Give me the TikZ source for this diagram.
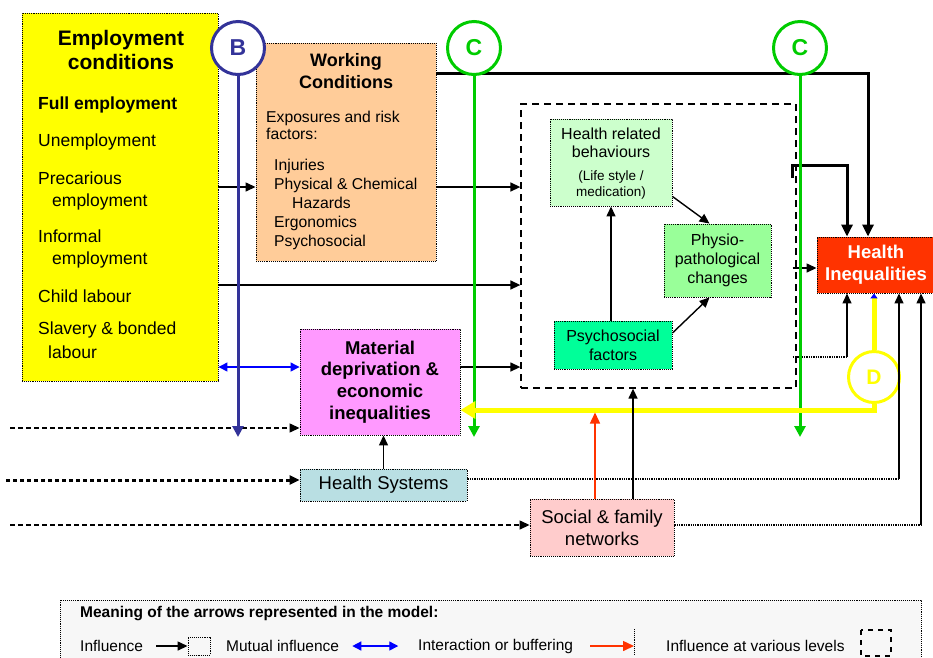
\documentclass[tikz,border=0pt]{standalone}
\usepackage{fontspec}
\setmainfont{Liberation Sans}
\usetikzlibrary{arrows.meta}

\definecolor{empyellow}{HTML}{FFFF00}
\definecolor{workorange}{HTML}{FFCC99}
\definecolor{matpink}{HTML}{FF99FF}
\definecolor{behgreen}{HTML}{CCFFCC}
\definecolor{physgreen}{HTML}{99FF99}
\definecolor{psygreen}{HTML}{00FF99}
\definecolor{hired}{HTML}{FF3300}
\definecolor{hsblue}{HTML}{B9DFE3}
\definecolor{netpink}{HTML}{FFCCCC}
\definecolor{bnavy}{HTML}{333399}
\definecolor{cgreen}{HTML}{00CC00}
\definecolor{dyellow}{HTML}{FFFF00}
\definecolor{legbg}{HTML}{F7F7F7}

\newcommand{\lifestyle}{\fontsize{13.5}{16}\selectfont}

\tikzset{
  box/.style={draw, densely dotted, line width=0.9pt, inner sep=0pt},
  levbox/.style={draw, line width=1.3pt, dash pattern=on 7pt off 5pt, inner sep=0pt},
  letter/.style={circle, draw, line width=3pt, fill=white, minimum size=53pt, inner sep=0pt,
    font=\fontsize{23}{23}\selectfont\bfseries},
  titletxt/.style={inner sep=0pt, align=center, font=\fontsize{21}{24}\selectfont\bfseries},
  emptxt/.style={anchor=west, inner sep=0pt, font=\fontsize{17.5}{20}\selectfont},
  worktxt/.style={anchor=west, inner sep=0pt, align=left, font=\fontsize{15.7}{17.5}\selectfont},
  boldtxt/.style={align=center, font=\fontsize{18.5}{21.7}\selectfont\bfseries},
  midtxt/.style={align=center, font=\fontsize{18.5}{22}\selectfont},
  smalltxt/.style={align=center, font=\fontsize{16}{19}\selectfont},
  legtxt/.style={anchor=west, inner sep=0pt, font=\fontsize{15.5}{17}\selectfont},
  infl/.style={line width=1.4pt, -{Triangle[length=10pt,width=9pt]}},
  boldinfl/.style={line width=3pt, -{Triangle[length=12pt,width=11pt]}},
  mutual/.style={blue, line width=1.3pt, {Triangle[length=9pt,width=9pt]}-{Triangle[length=9pt,width=9pt]}},
  buffer/.style={hired, line width=1.5pt, -{Triangle[length=11pt,width=10pt]}},
  outline/.style={line width=1.3pt, dash pattern=on 5pt off 3pt},
  sysline/.style={line width=3pt, dash pattern=on 3.5pt off 3.5pt},
  dotline/.style={line width=1.3pt, densely dotted},
  cline/.style={cgreen, line width=3pt, -{Triangle[length=11pt,width=11pt]}},
  bline/.style={bnavy, line width=3pt, -{Triangle[length=11pt,width=11pt]}},
  yel/.style={dyellow, line width=5pt},
}

\begin{document}
\begin{tikzpicture}[x=1pt, y=-1pt]
  \useasboundingbox (0,0) rectangle (933,657);

  % helper rows
  \coordinate (rowtop) at (0,73);
  \coordinate (rowhigh) at (0,165);
  \coordinate (rowbeh) at (0,178);
  \coordinate (rowwork) at (0,187);
  \coordinate (rowmid) at (0,268);
  \coordinate (rowchild) at (0,285);
  \coordinate (rowlow) at (0,357);
  \coordinate (rowmat) at (0,367);
  \coordinate (rowyel) at (0,410);
  \coordinate (rowend) at (0,437);
  \coordinate (rowsys) at (0,479);
  % free ends on the left
  \coordinate (inmat) at (10,428);
  \coordinate (insys) at (6,480);
  \coordinate (innet) at (10,525);

  % employment conditions
  \node[box, fill=empyellow, minimum width=196pt, minimum height=368pt] (emp) at (120,197) {};
  \node[titletxt] (emptitle) at (121,50) {Employment\\conditions};
  \node[emptxt, font=\fontsize{17.5}{20}\selectfont\bfseries] (emp1) at (38,105) {Full employment};
  \node[emptxt] (emp2) at (38,142) {Unemployment};
  \node[emptxt] (emp3) at (38,178) {Precarious};
  \node[emptxt] (emp4) at (52,202) {employment};
  \node[emptxt] (emp5) at (38,236) {Informal};
  \node[emptxt] (emp6) at (52,260) {employment};
  \node[emptxt] (emp7) at (38,296) {Child labour};
  \node[emptxt] (emp8) at (38,330) {Slavery \& bonded};
  \node[emptxt] (emp9) at (48,352) {labour};

  % working conditions
  \node[box, fill=workorange, minimum width=180pt, minimum height=218pt] (work) at (346,152) {};
  \node[titletxt, font=\fontsize{18}{22}\selectfont\bfseries] (worktitle) at (346,71) {Working\\Conditions};
  \node[worktxt, font=\fontsize{15.7}{17}\selectfont] (workexp) at (266,125.5) {Exposures and risk\\factors:};
  \node[worktxt, font=\fontsize{15.7}{19}\selectfont] (worklist) at (274,204)
    {Injuries\\Physical \& Chemical\\\hspace*{18pt}Hazards\\Ergonomics\\Psychosocial};

  % other determinants
  \node[box, fill=matpink, minimum width=160pt, minimum height=106pt, boldtxt] (md) at (380,382)
    {Material\\deprivation \&\\economic\\inequalities};
  \node[box, fill=hsblue, minimum width=167pt, minimum height=32pt, midtxt] (hs) at (383.5,485) {\raisebox{-2pt}{Health Systems}};
  \node[box, fill=netpink, minimum width=144pt, minimum height=57pt, midtxt] (net) at (602,527.5) {Social \& family\\networks};

  % influence at various levels
  \node[levbox, minimum width=275pt, minimum height=284pt] (lev) at (658.5,246) {};
  \node[box, fill=behgreen, minimum width=122pt, minimum height=87pt] (beh) at (611,162.5) {};
  \node[smalltxt, inner sep=0pt, font=\fontsize{16}{18}\selectfont] (behtitle) at (611,143) {Health related\\behaviours};
  \node[inner sep=0pt, align=center, font=\lifestyle] (behnote) at (611,185) {(Life style /\\medication)};
  \node[box, fill=physgreen, minimum width=107pt, minimum height=73pt, smalltxt] (phys) at (717.5,260.5)
    {Physio-\\pathological\\changes};
  \node[box, fill=psygreen, minimum width=118pt, minimum height=48pt, smalltxt] (psy) at (613,345) {Psychosocial\\factors};

  % outcome
  \node[box, fill=hired, minimum width=118pt, minimum height=56pt, boldtxt, text=white,
    font=\fontsize{18.5}{22}\selectfont\bfseries] (hi) at (876,265) {Health\\Inequalities};
  \coordinate (levtap) at ([xshift=-4pt]lev.east);
  \coordinate (hiW) at ([xshift=-8pt]hi.north);
  \coordinate (hiB) at ([xshift=-29pt]hi.north);
  \coordinate (hiA) at ([xshift=-29pt]hi.south);
  \coordinate (hiD) at ([xshift=-2pt]hi.south);
  \coordinate (hiS) at ([xshift=23pt]hi.south);
  \coordinate (hiN) at ([xshift=45pt]hi.south);

  % working conditions straight to the outcome
  \draw[boldinfl] (work.east |- rowtop) -| (hiW);

  % letters
  \node[letter, draw=bnavy, text=bnavy] (b) at (238,48) {B};
  \node[letter, draw=cgreen, text=cgreen] (c1) at (474,48) {C};
  \node[letter, draw=cgreen, text=cgreen] (c2) at (800,48) {C};
  \node[letter, draw=dyellow, text=dyellow, minimum size=51pt, font=\fontsize{21}{21}\selectfont\bfseries] (d) at (874,377) {D};

  % influences
  \draw[infl] (emp.east |- rowwork) -- (work.west |- rowwork);
  \draw[infl] (work.east |- rowwork) -- (lev.west |- rowwork);
  \draw[infl] (emp.east |- rowchild) -- (lev.west |- rowchild);
  \draw[infl] (md.east |- rowmat) -- (lev.west |- rowmat);
  \draw[mutual] (emp.east |- rowmat) -- (md.west |- rowmat);
  \draw[infl, outline] (inmat) -- (md.west |- inmat);
  \draw[infl, sysline] (insys) -- (hs.west |- insys);
  \draw[infl, outline] (innet) -- (net.west |- innet);
  \draw[infl] (hs.north) -- (hs.north |- md.south);

  % inside the levels box
  \draw[infl] (psy.north -| beh.south) -- (beh.south);
  \draw[infl] ([yshift=10pt]beh.south east) -- ([xshift=-8pt]phys.north);
  \draw[infl] ([yshift=12pt]psy.east) -- ([xshift=-8pt]phys.south);

  % into health inequalities
  \draw[boldinfl] (levtap |- rowbeh) -- (levtap |- rowhigh) -| (hiB);
  \draw[infl] (levtap |- rowmid) -- (hi.west |- rowmid);
  \draw[dotline] (levtap |- rowlow) -- (hiA |- rowlow);
  \draw[infl] (hiA |- rowlow) -- (hiA);
  \draw[dotline] (hs.east |- rowsys) -- (hiS |- rowsys);
  \draw[infl] (hiS |- rowsys) -- (hiS);
  \draw[dotline] (net.east |- innet) -- (hiN |- innet);
  \draw[infl] (hiN |- innet) -- (hiN);

  % B and C
  \draw[bline] (b.south) -- (b.south |- rowend);
  \draw[cline] (c1.south) -- (c1.south |- rowend);
  \draw[cline] (c2.south) -- (c2.south |- rowend);

  % D
  \draw[yel, -{Triangle[length=5pt,width=7pt,color=blue]}] (d.north) -- (hiD);
  \draw[yel, -{Triangle[length=15pt,width=17pt]}] (d.south) |- (md.east |- rowyel);

  % social and family networks
  \coordinate (netup) at ([xshift=31pt]net.north);
  \coordinate (netbuf) at ([xshift=-7pt]net.north);
  \draw[buffer, shorten >=2.5pt] (netbuf) -- (netbuf |- rowyel);
  \draw[infl] (netup) -- (lev.south -| netup);

  % legend
  \node[box, fill=legbg, minimum width=861pt, minimum height=70pt] (leg) at (490.5,635) {};
  \node[legtxt, font=\fontsize{15.5}{17}\selectfont\bfseries] (legtitle) at (80,614)
    {Meaning of the arrows represented in the model:};
  \node[legtxt] (leg1) at (80,646) {Influence};
  \node[box, minimum width=22pt, minimum height=18pt] (legsq) at (199,646) {};
  \draw[infl] ([xshift=13pt]leg1.east) -- (legsq.west);
  \node[legtxt] (leg2) at (226,646) {Mutual influence};
  \draw[mutual] ([xshift=13pt]leg2.east) -- ++(46,0);
  \node[legtxt] (leg3) at (418,646) {Interaction or buffering};
  \coordinate (legbar) at (634,646);
  \draw[buffer] ([xshift=17pt]leg3.east) -- (legbar);
  \draw[line width=0.9pt, densely dotted] ([yshift=17pt]legbar) -- ([yshift=-9pt]legbar);
  \node[legtxt] (leg4) at (666,646) {Influence at various levels};
  \draw[line width=1.3pt, dash pattern=on 5pt off 5pt] (861,630) rectangle (891,656);
\end{tikzpicture}
\end{document}
